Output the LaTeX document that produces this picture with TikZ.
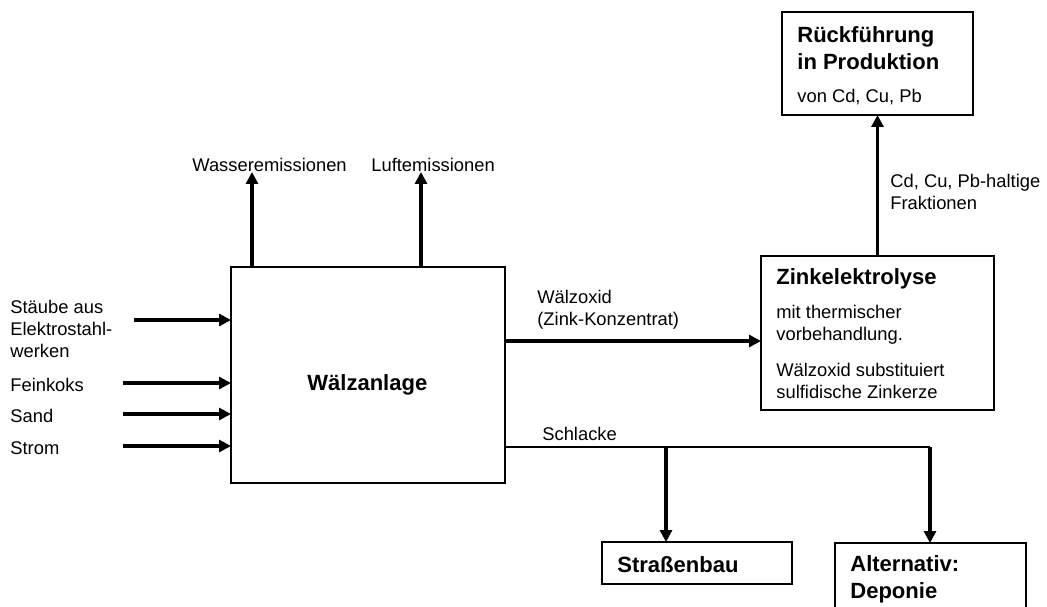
\documentclass[tikz,border=0pt]{standalone}
\usepackage{fontspec}
\setmainfont{Liberation Sans}
\usetikzlibrary{arrows.meta}
\usetikzlibrary{calc}
\usetikzlibrary{fit}

\begin{document}
\begin{tikzpicture} [
    x=0.545pt, y=-0.545pt,
    box/.style={draw, line width=0.7pt, inner sep=0pt, outer sep=0pt},
    f/.style={line width=1.8pt,-{Triangle[length=6.5pt,width=6.5pt]}},
    ln/.style={line width=0.7pt},
    lbl/.style={anchor=west, inner sep=0pt, align=left,
        font=\fontsize{10}{12.2}\selectfont},
    ttl/.style={anchor=west, inner sep=0pt, align=left,
        font=\fontsize{12}{14.5}\selectfont\bfseries}
]
\useasboundingbox (0,0) rectangle (1047,606);

% boxes
\node [box, fit={(231,267)(505,483)}] (walz) {};
\node [box, fit={(761,256)(994,410)}] (zink) {};
\node [box, fit={(782,12)(973,115)}] (rueck) {};
\node [box, fit={(602,542)(792,584)}] (strasse) {};
\node [box, fit={(835,543)(1026,640)}] (depo) {};

% box texts
\node [ttl] (walzt) at (307,385) {Wälzanlage};
\node [ttl] (zinkt) at (776,279) {Zinkelektrolyse};
\node [lbl] (zink1) at (776,325) {mit thermischer\\vorbehandlung.};
\node [lbl] (zink2) at (776,381) {Wälzoxid substituiert\\sulfidische Zinkerze};
\node [ttl] (rueckt) at (797,48) {Rückführung\\in Produktion};
\node [lbl] (rueck1) at (797,97) {von Cd, Cu, Pb};
\node [ttl] (strasset) at (617,565) {Straßenbau};
\node [ttl] (depot) at (850,579) {Alternativ:\\Deponie};

% inputs
\node [lbl] (in1) at (10,329) {Stäube aus\\Elektrostahl-\\werken};
\node [lbl] (in2) at (10,385) {Feinkoks};
\node [lbl] (in3) at (10,416) {Sand};
\node [lbl] (in4) at (10,448) {Strom};
\coordinate (a1) at (134,320);
\coordinate (a2) at (123,383);
\coordinate (a3) at (123,414);
\coordinate (a4) at (123,446);
\draw [f] (a1) -- (a1 -| walz.west);
\draw [f] (a2) -- (a2 -| walz.west);
\draw [f] (a3) -- (a3 -| walz.west);
\draw [f] (a4) -- (a4 -| walz.west);

% emissions
\node [lbl] (wasser) at (192,165) {Wasseremissionen};
\node [lbl] (luft) at (371,165) {Luftemissionen};
\coordinate (e1) at (252,172);
\coordinate (e2) at (421,172);
\draw [f] (e1 |- walz.north) -- (e1);
\draw [f] (e2 |- walz.north) -- (e2);

% Waelzoxid
\node [lbl] (wo1) at (537,297) {Wälzoxid};
\node [lbl] (wo2) at (537,321) {(Zink-Konzentrat)};
\coordinate (wo) at (505,341);
\draw [f] (wo) -- (wo -| zink.west);

% back to production
\node [lbl] (frak) at (890,192) {Cd, Cu, Pb-haltige\\Fraktionen};
\draw [f] (zink.north) -- (rueck.south);

% slag
\node [lbl] (schl) at (542,434) {Schlacke};
\coordinate (sl) at (505,447);
\coordinate (sa) at (666,447);
\coordinate (sb) at (930,447);
\draw [ln] (sl) -- (sb);
\draw [f] (sa) -- (sa |- strasse.north);
\draw [f] (sb) -- (sb |- depo.north);

\end{tikzpicture}
\end{document}
